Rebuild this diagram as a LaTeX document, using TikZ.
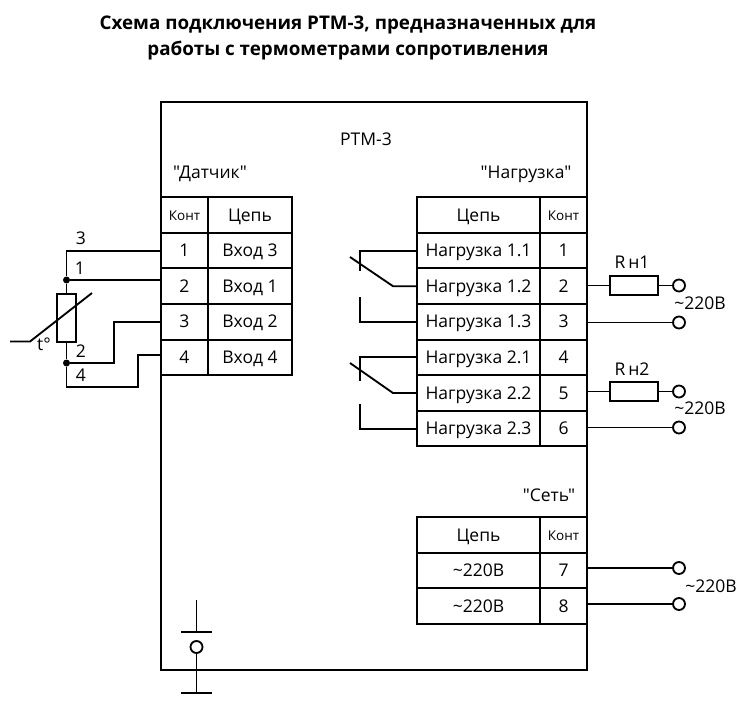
\documentclass[tikz,border=0pt]{standalone}
\usepackage{fontspec}
\setmainfont{Open Sans}[Ligatures=TeXOff]
\usetikzlibrary{calc}

\tikzset{
	wire/.style={line width=1.85pt},
	cell/.style={draw,line width=1.85pt,minimum height=35.6pt,inner sep=0pt,text height=14pt,text depth=2pt,font=\fontsize{17.5}{20}\selectfont},
	wide/.style={cell,minimum width=84pt},
	narrow/.style={cell,minimum width=47pt},
	rwide/.style={cell,minimum width=123pt},
	txt/.style={inner sep=0pt,font=\fontsize{17.5}{20}\selectfont},
	konthead/.style={text height=10pt,text depth=0pt,font=\fontsize{13.5}{16}\selectfont},
	term/.style={draw,shape=circle,line width=1.85pt,fill=white,minimum size=12pt,inner sep=0pt},
	dot/.style={fill,shape=circle,minimum size=7pt,inner sep=0pt},
	res/.style={draw,line width=1.85pt,inner sep=0pt,fill=white}
}

\begin{document}
\begin{tikzpicture}[x=1pt,y=-1pt]
	\useasboundingbox (0,0) rectangle (750,709);
	\draw (348,38) node(title) [align=center,font=\fontsize{18.8}{26}\selectfont\bfseries] {Схема подключения РТМ-3, предназначенных для\\работы с термометрами сопротивления};
	\draw (374,386) node(box) [draw,line width=1.85pt,minimum width=426pt,minimum height=568pt] {};
	\node (rtm) [txt] at (366,139) {РТМ-3};
	\node (lblsensor) [txt] at (210,174) {"Датчик"};
	\node (lblload) [txt] at (526,174) {"Нагрузка"};
	\node (lblnet) [txt] at (549,495) {"Сеть"};
	% sensor table
	\draw (184.5,215) node(Lk0) [narrow,konthead] {Конт};
	\draw (250,215) node(Lc0) [wide] {Цепь};
	\draw (184.5,250.6) node(Lk1) [narrow] {1};
	\draw (250,250.6) node(Lc1) [wide] {Вход 3};
	\draw (184.5,286.2) node(Lk2) [narrow] {2};
	\draw (250,286.2) node(Lc2) [wide] {Вход 1};
	\draw (184.5,321.8) node(Lk3) [narrow] {3};
	\draw (250,321.8) node(Lc3) [wide] {Вход 2};
	\draw (184.5,357.4) node(Lk4) [narrow] {4};
	\draw (250,357.4) node(Lc4) [wide] {Вход 4};
	% load table
	\draw (478.5,215) node(Rc0) [rwide] {Цепь};
	\draw (563.5,215) node(Rk0) [narrow,konthead] {Конт};
	\draw (478.5,250.6) node(Rc1) [rwide] {Нагрузка 1.1};
	\draw (563.5,250.6) node(Rk1) [narrow] {1};
	\draw (478.5,286.2) node(Rc2) [rwide] {Нагрузка 1.2};
	\draw (563.5,286.2) node(Rk2) [narrow] {2};
	\draw (478.5,321.8) node(Rc3) [rwide] {Нагрузка 1.3};
	\draw (563.5,321.8) node(Rk3) [narrow] {3};
	\draw (478.5,357.4) node(Rc4) [rwide] {Нагрузка 2.1};
	\draw (563.5,357.4) node(Rk4) [narrow] {4};
	\draw (478.5,393) node(Rc5) [rwide] {Нагрузка 2.2};
	\draw (563.5,393) node(Rk5) [narrow] {5};
	\draw (478.5,428.6) node(Rc6) [rwide] {Нагрузка 2.3};
	\draw (563.5,428.6) node(Rk6) [narrow] {6};
	% net table
	\draw (478.5,535) node(Nc0) [rwide] {Цепь};
	\draw (563.5,535) node(Nk0) [narrow,konthead] {Конт};
	\draw (478.5,570.6) node(Nc1) [rwide] {\textasciitilde220В};
	\draw (563.5,570.6) node(Nk1) [narrow] {7};
	\draw (478.5,606.2) node(Nc2) [rwide] {\textasciitilde220В};
	\draw (563.5,606.2) node(Nk2) [narrow] {8};
	% thermometer
	\draw (66.5,318) node(rt) [res,minimum width=19pt,minimum height=48pt] {};
	\draw (66.5,280) node(dot1) [dot] {};
	\draw (66.5,363) node(dot2) [dot] {};
	\coordinate (w3a) at (66.5,250.6);
	\coordinate (w4a) at (66.5,387);
	\coordinate (w4b) at (138,387);
	\coordinate (w4c) at (138,355);
	\coordinate (w2a) at (114,363);
	\coordinate (tleft) at (10,341.5);
	\coordinate (tkink) at (30,341.5);
	\coordinate (tend) at (92,293);
	\draw[wire] (Lk1.west) -- (w3a) -- (dot1);
	\draw[wire] (dot1) -- (rt);
	\draw[wire] (dot1) -- (dot1 -| Lk2.west);
	\draw[wire] (rt) -- (dot2);
	\draw[wire] (dot2) -- (w2a) -- (w2a |- Lk3.west) -- (Lk3.west);
	\draw[wire] (dot2) -- (w4a) -- (w4b) -- (w4c) -- (w4c -| Lk4.west);
	\draw[wire] (tleft) -- (tkink) -- (tend);
	\node (t3) [txt] at (81,238) {3};
	\node (t1) [txt] at (80,268) {1};
	\node (t2) [txt] at (81,351) {2};
	\node (t4) [txt] at (81,375) {4};
	\node (tdeg) [txt] at (44,344) {t\textdegree};
	% switch 1
	\coordinate (s1a) at (360,250.6);
	\coordinate (s1b) at (360,271);
	\coordinate (s1c) at (350,257);
	\coordinate (s1d) at (393,286.2);
	\coordinate (s1e) at (360,297);
	\coordinate (s1f) at (360,321.8);
	\draw[wire] (Rc1.west) -- (s1a) -- (s1b);
	\draw[wire] (Rc2.west) -- (s1d) -- (s1c);
	\draw[wire] (Rc3.west) -- (s1f) -- (s1e);
	% switch 2
	\coordinate (s2a) at (360,357.4);
	\coordinate (s2b) at (360,381);
	\coordinate (s2c) at (350,363);
	\coordinate (s2d) at (393,393);
	\coordinate (s2e) at (360,404);
	\coordinate (s2f) at (360,428.6);
	\draw[wire] (Rc4.west) -- (s2a) -- (s2b);
	\draw[wire] (Rc5.west) -- (s2d) -- (s2c);
	\draw[wire] (Rc6.west) -- (s2f) -- (s2e);
	% outputs
	\draw (634,285.5) node(Rn1) [res,minimum width=48pt,minimum height=19pt] {};
	\draw (679,285.5) node(T2) [term] {};
	\draw (679,322.5) node(T3) [term] {};
	\draw (634,391.5) node(Rn2) [res,minimum width=48pt,minimum height=19pt] {};
	\draw (679,391.5) node(T5) [term] {};
	\draw (679,427.5) node(T6) [term] {};
	\draw (679,568) node(T7) [term] {};
	\draw (679,604) node(T8) [term] {};
	\draw[wire] (Rn1 -| Rk2.east) -- (Rn1);
	\draw[wire] (Rn1) -- (T2);
	\draw[wire] (T3 -| Rk3.east) -- (T3);
	\draw[wire] (Rn2 -| Rk5.east) -- (Rn2);
	\draw[wire] (Rn2) -- (T5);
	\draw[wire] (T6 -| Rk6.east) -- (T6);
	\draw[wire] (T7 -| Nk1.east) -- (T7);
	\draw[wire] (T8 -| Nk2.east) -- (T8);
	\node (lblr1) [txt] at (632,262) {R\,н1};
	\node (lblr2) [txt] at (632,369) {R\,н2};
	\node (v1) [txt] at (700,303) {\textasciitilde220В};
	\node (v2) [txt] at (700,408) {\textasciitilde220В};
	\node (v3) [txt] at (711,586) {\textasciitilde220В};
	% ground
	\draw (196.5,647) node(gnd) [term] {};
	\coordinate (gtop) at (196.5,600);
	\coordinate (gmid) at (196.5,632);
	\coordinate (gmidl) at (181,632);
	\coordinate (gmidr) at (212,632);
	\coordinate (gbot) at (196.5,693);
	\coordinate (gbotl) at (181,693);
	\coordinate (gbotr) at (212,693);
	\draw[wire] (gtop) -- (gmid);
	\draw[wire] (gmidl) -- (gmidr);
	\draw[wire] (gnd) -- (gbot);
	\draw[wire] (gbotl) -- (gbotr);
\end{tikzpicture}
\end{document}
